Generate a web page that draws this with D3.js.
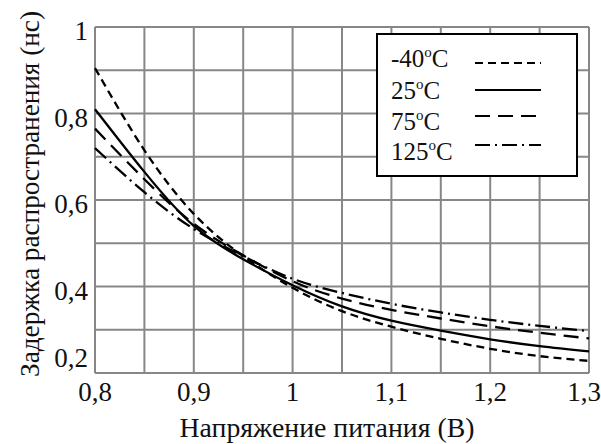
<!DOCTYPE html>
<html>
<head>
<meta charset="utf-8">
<script src="https://cdn.jsdelivr.net/npm/d3@7"></script>
<style>
  body { margin: 0; background: #fff; }
</style>
</head>
<body>
<div id="root"></div>
<script>
const width = 601
const height = 444

// supply voltage, V
const voltage = [0.8, 0.85, 0.9, 0.95, 1.0, 1.05, 1.1, 1.15, 1.2, 1.25, 1.3]
// delay, ns, per temperature
const delayM40 = [0.905, 0.715, 0.568, 0.47, 0.397, 0.343, 0.307, 0.279, 0.256, 0.239, 0.228]
const delay25 = [0.81, 0.665, 0.54, 0.463, 0.403, 0.354, 0.321, 0.298, 0.278, 0.262, 0.25]
const delay75 = [0.765, 0.648, 0.545, 0.472, 0.412, 0.372, 0.346, 0.326, 0.308, 0.293, 0.28]
const delay125 = [0.72, 0.618, 0.533, 0.47, 0.418, 0.385, 0.36, 0.34, 0.323, 0.309, 0.297]

const tempLabels = ['-40', '25', '75', '125']
const xTicks = [0.8, 0.9, 1.0, 1.1, 1.2, 1.3]
const yTicks = [0.2, 0.4, 0.6, 0.8, 1.0]

const series = [
  { name: tempLabels[0], values: delayM40, dash: '8,5' },
  { name: tempLabels[1], values: delay25, dash: null },
  { name: tempLabels[2], values: delay75, dash: '15,8' },
  { name: tempLabels[3], values: delay125, dash: '15,5,2,5' }
]

const serif = 'Liberation Serif, Times New Roman, serif'

const margin = { top: 27, right: 12, bottom: 71, left: 95 }
const innerW = width - margin.left - margin.right
const innerH = height - margin.top - margin.bottom

const svg = d3.select('#root').append('svg')
  .attr('width', width)
  .attr('height', height)
  .attr('font-family', serif)

const g = svg.append('g')
  .attr('transform', `translate(${margin.left},${margin.top})`)

const x = d3.scaleLinear().domain([0.8, 1.3]).range([0, innerW])
const y = d3.scaleLinear().domain([0.2, 1.0]).range([innerH, 0])

const fmt = d => String(+d.toFixed(1)).replace('.', ',')

// grid
g.append('g')
  .selectAll('line')
  .data(d3.range(0, 11).map(i => 0.8 + i * 0.05))
  .join('line')
  .attr('x1', d => x(d)).attr('x2', d => x(d))
  .attr('y1', 0).attr('y2', innerH)
  .attr('stroke', '#878787').attr('stroke-width', 2)

g.append('g')
  .selectAll('line')
  .data(d3.range(0, 9).map(i => 0.2 + i * 0.1))
  .join('line')
  .attr('x1', 0).attr('x2', innerW)
  .attr('y1', d => y(d)).attr('y2', d => y(d))
  .attr('stroke', '#878787').attr('stroke-width', 2)

// tick labels
g.append('g')
  .selectAll('text')
  .data(xTicks)
  .join('text')
  .attr('x', d => x(d))
  .attr('y', innerH + 28)
  .attr('text-anchor', d => d === 1.3 ? 'end' : 'middle')
  .attr('dx', d => d === 1.3 ? 12 : 0)
  .attr('font-size', 27)
  .attr('fill', '#111')
  .text(fmt)

g.append('g')
  .selectAll('text')
  .data(yTicks)
  .join('text')
  .attr('x', -7)
  .attr('y', d => Math.max(11, Math.min(innerH - 6, y(d) + 13)))
  .attr('text-anchor', 'end')
  .attr('font-size', 27)
  .attr('fill', '#111')
  .text(fmt)

// curves
const line = d3.line()
  .x((d, i) => x(voltage[i]))
  .y(d => y(d))
  .curve(d3.curveNatural)

g.append('g')
  .selectAll('path')
  .data(series)
  .join('path')
  .attr('d', d => line(d.values))
  .attr('fill', 'none')
  .attr('stroke', '#000')
  .attr('stroke-width', 2.3)
  .attr('stroke-dasharray', d => d.dash)

// legend
const leg = svg.append('g').attr('transform', 'translate(377,34)')
leg.append('rect')
  .attr('width', 200).attr('height', 142)
  .attr('fill', '#fff').attr('stroke', '#000').attr('stroke-width', 2)

const textY = [33, 65, 96, 126]
const lineY = [29, 56, 82, 111]

const lbl = leg.selectAll('text.lbl')
  .data(series)
  .join('text')
  .attr('class', 'lbl')
  .attr('x', 14)
  .attr('y', (d, i) => textY[i])
  .attr('font-size', 25)
  .attr('fill', '#111')
lbl.append('tspan').text(d => d.name)
lbl.append('tspan').attr('font-size', 15).attr('dy', -10).text('o')
lbl.append('tspan').attr('dy', 10).text('C')

leg.selectAll('line')
  .data(series)
  .join('line')
  .attr('x1', 98).attr('x2', 164)
  .attr('y1', (d, i) => lineY[i]).attr('y2', (d, i) => lineY[i])
  .attr('stroke', '#000').attr('stroke-width', 2)
  .attr('stroke-dasharray', d => d.dash)

// axis titles
svg.append('text')
  .attr('x', 327)
  .attr('y', 437)
  .attr('text-anchor', 'middle')
  .attr('font-size', 27)
  .attr('textLength', 295)
  .attr('lengthAdjust', 'spacingAndGlyphs')
  .attr('fill', '#111')
  .text('Напряжение питания  (В)')

svg.append('text')
  .attr('transform', 'translate(39,194) rotate(-90)')
  .attr('text-anchor', 'middle')
  .attr('font-size', 27)
  .attr('textLength', 366)
  .attr('lengthAdjust', 'spacingAndGlyphs')
  .attr('fill', '#111')
  .text('Задержка распространения  (нс)')
</script>
</body>
</html>
